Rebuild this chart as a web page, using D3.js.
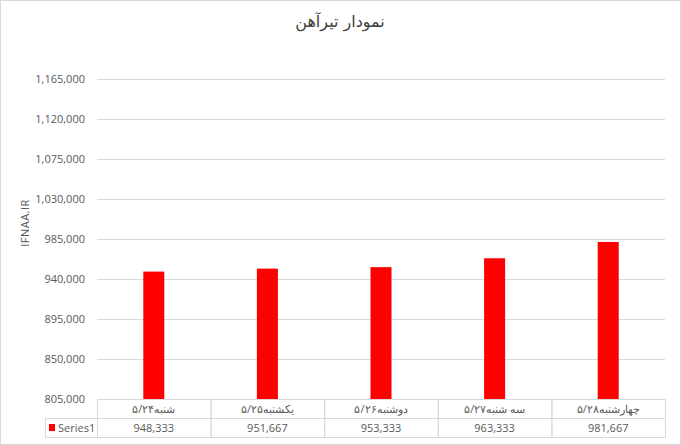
<!DOCTYPE html>
<html lang="fa">
<head>
  <meta charset="UTF-8">
  <title>نمودار تیرآهن</title>
  <script src="https://d3js.org/d3.v7.min.js"></script>
  <style>
    body { margin: 0; background: #fff; }
    svg { display: block; font-family: "DejaVu Sans", "Liberation Sans", sans-serif; }
    .grid line { stroke: #d9d9d9; stroke-width: 1px; }
    .tick-label { fill: #595959; font-size: 11px; font-family: "Open Sans", "Liberation Sans", sans-serif; }
    .cell { stroke: #d9d9d9; fill: none; }
  </style>
</head>
<body>
  <div id="chart"></div>
  <script>
    const categories = ["شنبه۵/۲۴", "یکشنبه۵/۲۵", "دوشنبه۵/۲۶", "سه شنبه۵/۲۷", "چهارشنبه۵/۲۸"];
    const values = [948333, 951667, 953333, 963333, 981667];
    const yTicks = [805000, 850000, 895000, 940000, 985000, 1030000, 1075000, 1120000, 1165000];
    const seriesName = "Series1";

    const width = 681, height = 445;
    const margin = { top: 79, right: 17, bottom: 46, left: 97 };
    const rowH = 19;

    const svg = d3.select("#chart").append("svg")
      .attr("width", width)
      .attr("height", height);

    // chart frame
    svg.append("rect")
      .attr("x", 0.5).attr("y", 0.5)
      .attr("width", width - 1).attr("height", height - 1)
      .attr("fill", "#fff").attr("stroke", "#d9d9d9");

    svg.append("text")
      .attr("x", 340).attr("y", 27)
      .attr("text-anchor", "middle")
      .attr("font-size", 16)
      .attr("fill", "#404040")
      .attr("direction", "rtl")
      .text("نمودار تیرآهن");

    const x = d3.scaleBand()
      .domain(categories)
      .range([margin.left, width - margin.right + 1])
      .paddingInner(0.815)
      .paddingOuter(0.4075);

    const y = d3.scaleLinear()
      .domain([yTicks[0], yTicks[yTicks.length - 1]])
      .range([height - margin.bottom, margin.top]);

    const fmt = d3.format(",");

    // gridlines
    svg.append("g").attr("class", "grid")
      .selectAll("line")
      .data(yTicks.slice(1))
      .enter().append("line")
      .attr("x1", margin.left).attr("x2", width - margin.right + 1)
      .attr("y1", d => Math.round(y(d)) + 0.5)
      .attr("y2", d => Math.round(y(d)) + 0.5);

    // y labels
    svg.append("g")
      .selectAll("text")
      .data(yTicks)
      .enter().append("text")
      .attr("class", "tick-label")
      .attr("x", 85)
      .attr("y", d => y(d) + 4)
      .attr("text-anchor", "end")
      .text(d => fmt(d));

    svg.append("text")
      .attr("class", "tick-label")
      .attr("transform", "translate(29,223) rotate(-90)")
      .attr("text-anchor", "middle")
      .attr("letter-spacing", 0.5)
      .text("IFNAA.IR");

    // bars
    svg.append("g")
      .selectAll("rect")
      .data(values)
      .enter().append("rect")
      .attr("x", (d, i) => x(categories[i]))
      .attr("width", x.bandwidth())
      .attr("y", d => y(d))
      .attr("height", d => y(yTicks[0]) - y(d))
      .attr("fill", "#ff0000");

    // data table
    const base = height - margin.bottom;
    const step = x.step();
    const table = svg.append("g");

    categories.forEach((c, i) => {
      const cx = margin.left + i * step;
      table.append("rect").attr("class", "cell")
        .attr("x", cx + 0.5).attr("y", base + 0.5)
        .attr("width", step).attr("height", rowH);
      table.append("rect").attr("class", "cell")
        .attr("x", cx + 0.5).attr("y", base + rowH + 0.5)
        .attr("width", step).attr("height", rowH);
      table.append("text").attr("class", "tick-label")
        .attr("x", cx + step / 2).attr("y", base + 14)
        .attr("text-anchor", "middle")
        .attr("font-family", "DejaVu Sans, sans-serif")
        .attr("font-size", 10)
        .text(c);
      table.append("text").attr("class", "tick-label")
        .attr("x", cx + step / 2).attr("y", base + rowH + 14)
        .attr("text-anchor", "middle")
        .attr("font-size", 12)
        .text(fmt(values[i]));
    });

    // legend cell
    table.append("rect").attr("class", "cell")
      .attr("x", 45.5).attr("y", base + rowH + 0.5)
      .attr("width", margin.left - 45).attr("height", rowH);
    table.append("rect")
      .attr("x", 49).attr("y", base + rowH + 6)
      .attr("width", 6).attr("height", 7)
      .attr("fill", "#ff0000");
    table.append("text").attr("class", "tick-label")
      .attr("x", 58).attr("y", base + rowH + 14)
      .attr("font-size", 11)
      .text(seriesName);
  </script>
</body>
</html>
